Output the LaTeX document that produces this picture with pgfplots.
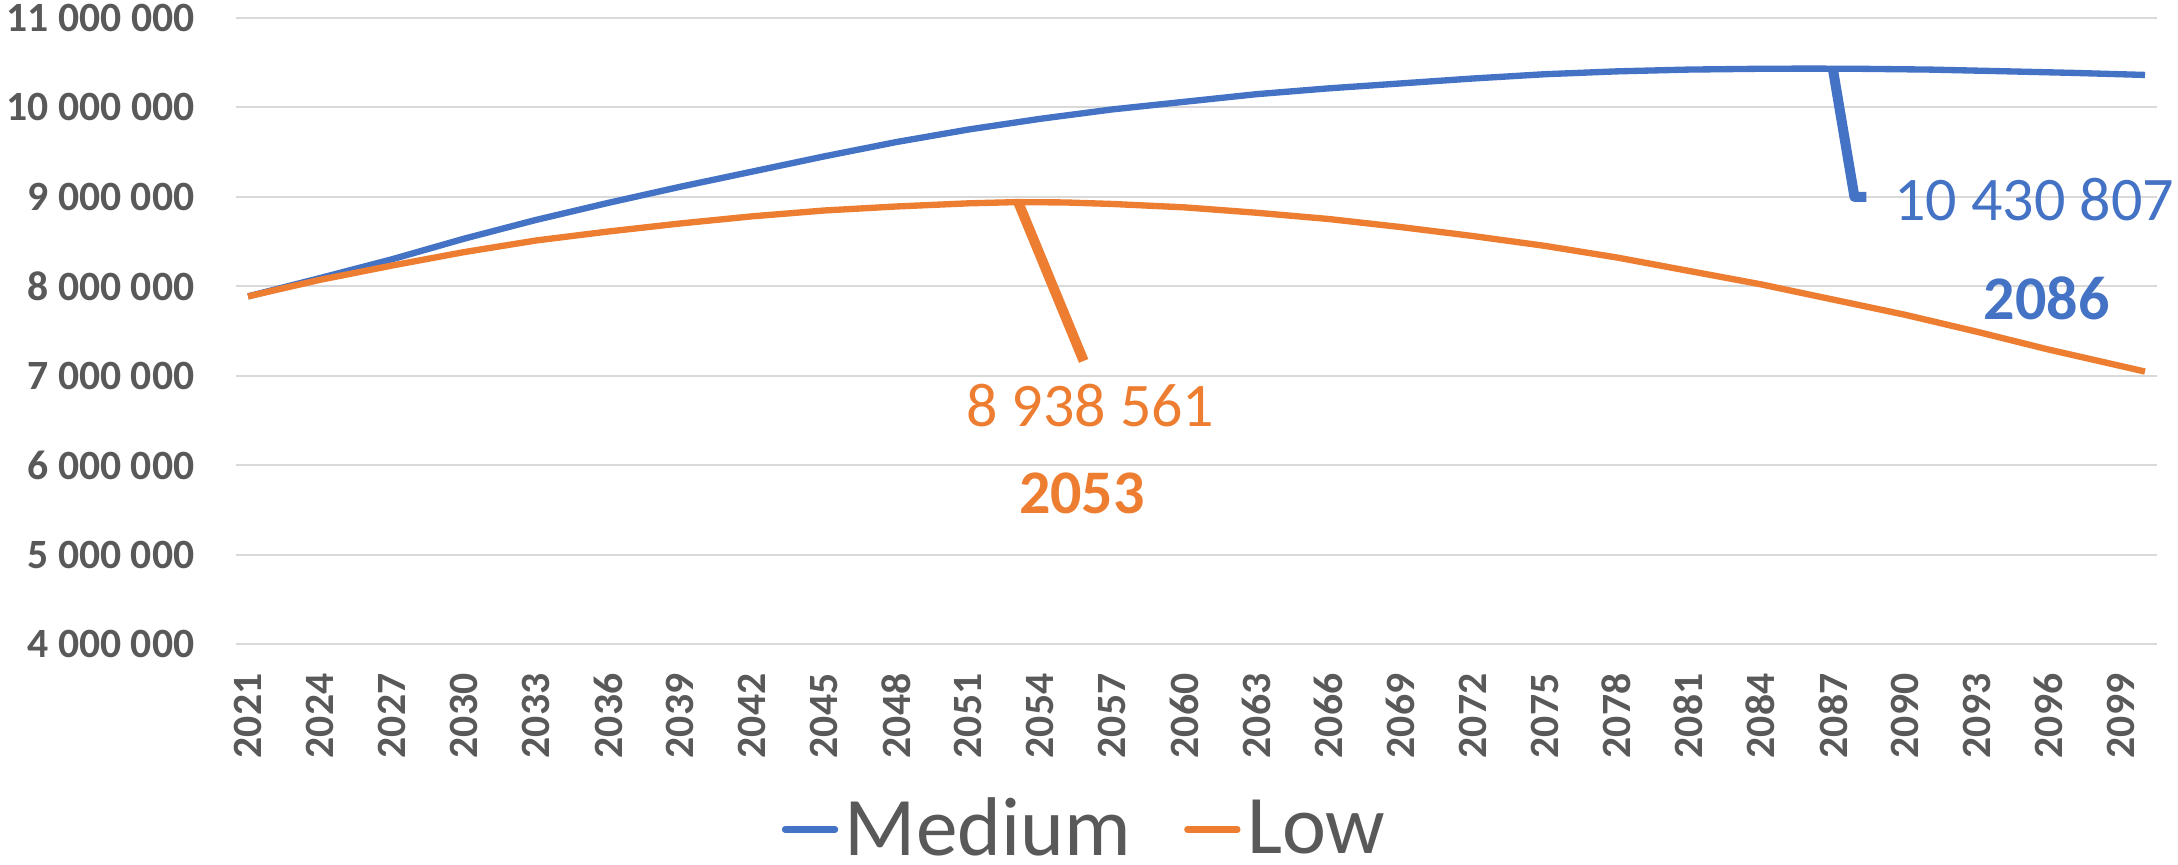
\documentclass[border=0pt]{standalone}
\usepackage{fontspec}
\setmainfont{Carlito}
\usepackage{pgfplots}
\pgfplotsset{compat=1.18}
\definecolor{mblue}{HTML}{4472C4}
\definecolor{morange}{HTML}{ED7D31}
\definecolor{tgray}{HTML}{595959}
\definecolor{ggray}{HTML}{D9D9D9}
\begin{document}
\begin{tikzpicture}
\useasboundingbox (0,0) rectangle (653.4pt,259.5pt);
\begin{axis}[
  at={(70.8pt,66.3pt)}, anchor=south west,
  scale only axis, width=576.3pt, height=187.9pt,
  xmin=2020.5, xmax=2100.5, ymin=4000000, ymax=11000000,
  xtick={2021,2024,...,2099},
  xticklabels={2021,2024,2027,2030,2033,2036,2039,2042,2045,2048,2051,2054,2057,2060,2063,2066,2069,2072,2075,2078,2081,2084,2087,2090,2093,2096,2099},
  ytick={4000000,5000000,6000000,7000000,8000000,9000000,10000000,11000000},
  yticklabels={4 000 000,5 000 000,6 000 000,7 000 000,8 000 000,9 000 000,10 000 000,11 000 000},
  axis line style={draw=none},
  major tick length=0pt,
  ymajorgrids, grid style={ggray, line width=0.6pt},
  tick label style={font=\fontsize{12.5}{15}\selectfont\bfseries, text=tgray, inner sep=0pt},
  xticklabel style={rotate=90, anchor=east},
  xticklabel shift=8.7pt,
  yticklabel shift=12.3pt,
  clip=false,
  legend columns=2,
  legend style={at={(0.443,-0.296)}, anchor=center, draw=none, fill=none,
    font=\fontsize{25}{30}\selectfont, text=tgray, inner xsep=0pt, inner ysep=0pt,
    /tikz/every even column/.append style={column sep=14pt}},
  legend image code/.code={\draw[#1, line cap=round] (0pt,0pt) -- (15pt,0pt);},
]
\addplot[mblue, line width=1.9pt, line join=round] coordinates {
(2021,7885000) (2024,8090000) (2027,8300000) (2030,8530000) (2033,8740000)
(2036,8930000) (2039,9110000) (2042,9280000) (2045,9450000) (2048,9610000)
(2051,9750000) (2054,9870000) (2057,9975000) (2060,10060000) (2063,10145000)
(2066,10210000) (2069,10265000) (2072,10320000) (2075,10368000) (2078,10400000)
(2081,10420000) (2084,10429000) (2086,10430807) (2088,10429000) (2091,10420000)
(2094,10402000) (2097,10383000) (2100,10360000)
};
\addlegendentry{Medium}
\addplot[morange, line width=1.9pt, line join=round] coordinates {
(2021,7885000) (2024,8070000) (2027,8230000) (2030,8380000) (2033,8510000)
(2036,8610000) (2039,8700000) (2042,8780000) (2045,8845000) (2048,8890000)
(2051,8925000) (2053,8938561) (2055,8935000) (2057,8918000) (2060,8880000)
(2063,8820000) (2066,8750000) (2069,8660000) (2072,8560000) (2075,8450000)
(2078,8320000) (2081,8170000) (2084,8020000) (2087,7850000) (2090,7680000)
(2093,7490000) (2096,7290000) (2100,7045000)
};
\addlegendentry{Low}
\draw[morange, line width=3pt] (axis cs:2053.08,8935000) -- (axis cs:2055.8,7164000);
\draw[mblue, line width=3pt, line join=round] (axis cs:2087,10430000) -- (axis cs:2087.9,8997000) -- (axis cs:2088.4,8997000);
\node[anchor=west, text=mblue, font=\fontsize{18.6}{22}\selectfont, inner sep=0pt] at (axis cs:2089.54,8972000) {10 430 807};
\node[text=mblue, font=\fontsize{18.6}{22}\selectfont\bfseries, inner sep=0pt] at (axis cs:2095.9,7868000) {2086};
\node[text=morange, font=\fontsize{18.6}{22}\selectfont, inner sep=0pt] at (axis cs:2056.08,6661000) {8 938 561};
\node[text=morange, font=\fontsize{18.6}{22}\selectfont\bfseries, inner sep=0pt] at (axis cs:2055.73,5678000) {2053};
\end{axis}
\end{tikzpicture}
\end{document}
